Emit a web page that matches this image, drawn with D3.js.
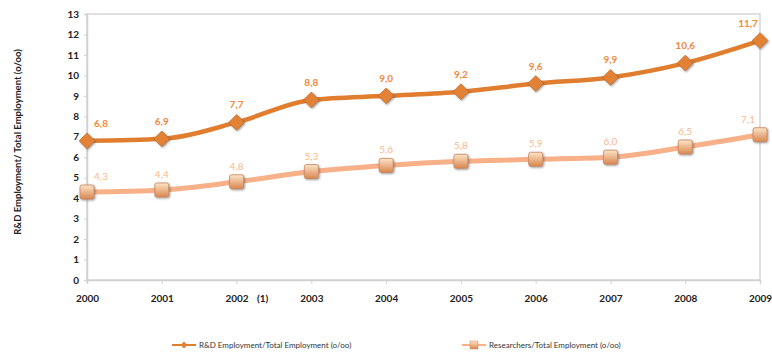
<!DOCTYPE html>
<html>
<head>
<meta charset="utf-8">
<script src="https://cdn.jsdelivr.net/npm/d3@7"></script>
<style>
body{margin:0;background:#fff;}
text{font-family:Lato,"Open Sans",sans-serif;}
</style>
</head>
<body>
<svg id="chart"></svg>
<script>
const years = ["2000","2001","2002","2003","2004","2005","2006","2007","2008","2009"];
const rdEmployment = [6.8,6.9,7.7,8.8,9.0,9.2,9.6,9.9,10.6,11.7];
const researchers = [4.3,4.4,4.8,5.3,5.6,5.8,5.9,6.0,6.5,7.1];
const yTicks = [0,1,2,3,4,5,6,7,8,9,10,11,12,13];
const seriesNames = ["R&D Employment/Total Employment (o/oo)","Researchers/Total Employment (o/oo)"];

const width = 772, height = 353;
const margin = {top:14,right:12,bottom:73,left:87};

const svg = d3.select("#chart").attr("width",width).attr("height",height);

const x = d3.scalePoint().domain(years).range([margin.left,width-margin.right]);
const y = d3.scaleLinear().domain([0,13]).range([height-margin.bottom,margin.top]);

const defs = svg.append("defs");
const grad = defs.append("linearGradient").attr("id","sq").attr("x1",0).attr("y1",0).attr("x2",0).attr("y2",1);
grad.append("stop").attr("offset","0%").attr("stop-color","#fde4c8");
grad.append("stop").attr("offset","100%").attr("stop-color","#d9874f");
const shadow = defs.append("filter").attr("id","sh").attr("x","-50%").attr("y","-50%").attr("width","200%").attr("height","200%");
shadow.append("feDropShadow").attr("dx",1).attr("dy",1).attr("stdDeviation",1).attr("flood-color","#555").attr("flood-opacity",0.6);

// frame
svg.append("rect")
    .attr("x",margin.left).attr("y",margin.top)
    .attr("width",width-margin.right-margin.left)
    .attr("height",height-margin.bottom-margin.top)
    .attr("fill","none").attr("stroke","#d6d6d6").attr("stroke-width",1.5);

// y axis
const yAxis = svg.append("g")
    .attr("transform",`translate(${margin.left},0)`)
    .call(d3.axisLeft(y).tickValues(yTicks).tickSize(3).tickPadding(5));
yAxis.select(".domain").attr("stroke","#d0d0d0").attr("stroke-width",1.5);
yAxis.selectAll(".tick line").attr("stroke","#d0d0d0");
yAxis.selectAll(".tick text").attr("font-size",10).attr("font-weight","bold").attr("fill","#222")
    .style("font-family","Lato,sans-serif");

// x axis
const xAxis = svg.append("g")
    .attr("transform",`translate(0,${height-margin.bottom})`)
    .call(d3.axisBottom(x).tickSize(4).tickPadding(11));
xAxis.select(".domain").attr("stroke","#d0d0d0").attr("stroke-width",1.5);
xAxis.selectAll(".tick line").attr("stroke","#d0d0d0");
xAxis.selectAll(".tick text").attr("font-size",10).attr("font-weight","bold").attr("fill","#222")
    .style("font-family","Lato,sans-serif");

svg.append("text")
    .attr("x",x("2002")+26).attr("y",height-margin.bottom+22)
    .attr("text-anchor","middle").attr("font-size",10).attr("font-weight","bold").attr("fill","#222")
    .text("(1)");

// y title
svg.append("text")
    .attr("transform",`translate(21,${(margin.top+height-margin.bottom)/2 - 5}) rotate(-90)`)
    .attr("text-anchor","middle").attr("font-size",9.5).attr("font-weight","bold").attr("fill","#222")
    .text("R&D Employment/ Total Employment (o/oo)");

const line = d3.line()
    .x((d,i)=>x(years[i]))
    .y(d=>y(d))
    .curve(d3.curveMonotoneX);

// researchers series
svg.append("path").datum(researchers)
    .attr("d",line).attr("fill","none").attr("stroke","#f7b088").attr("stroke-width",5);
svg.selectAll(".sq").data(researchers).enter().append("rect")
    .attr("x",(d,i)=>x(years[i])-7).attr("y",d=>y(d)-7)
    .attr("width",14).attr("height",14).attr("rx",2)
    .attr("fill","url(#sq)").attr("stroke","#c88760").attr("stroke-width",0.8)
    .attr("filter","url(#sh)");
svg.selectAll(".lab2").data(researchers).enter().append("text")
    .attr("x",(d,i)=>x(years[i])+(i==0?14:(i==years.length-1?-12:0)))
    .attr("y",d=>y(d)-12)
    .attr("text-anchor","middle").attr("font-size",10).attr("fill","#f8b98c")
    .text(d=>d3.format(".1f")(d).replace(".",","));

// R&D series
svg.append("path").datum(rdEmployment)
    .attr("d",line).attr("fill","none").attr("stroke","#e07d2e").attr("stroke-width",4.5);
svg.selectAll(".dia").data(rdEmployment).enter().append("path")
    .attr("d",d3.symbol().type(d3.symbolDiamond2).size(160))
    .attr("transform",(d,i)=>`translate(${x(years[i])},${y(d)})`)
    .attr("fill","#e38136").attr("stroke","#b86420").attr("stroke-width",0.6)
    .attr("filter","url(#sh)");
svg.selectAll(".lab1").data(rdEmployment).enter().append("text")
    .attr("x",(d,i)=>x(years[i])+(i==0?14:(i==years.length-1?-12:0)))
    .attr("y",d=>y(d)-14)
    .attr("text-anchor","middle").attr("font-size",10).attr("font-weight","bold").attr("fill","#f0893b")
    .text(d=>d3.format(".1f")(d).replace(".",","));

// legend
const legend = svg.append("g").attr("transform",`translate(0,${height-8})`);
const legendItems = [
    {x:172,color:"#e07d2e",name:seriesNames[0],mark:"diamond"},
    {x:462,color:"#f7b088",name:seriesNames[1],mark:"square"}
];
legendItems.forEach(item=>{
    const g = legend.append("g").attr("transform",`translate(${item.x},0)`);
    g.append("line").attr("x1",0).attr("x2",24).attr("y1",0).attr("y2",0)
        .attr("stroke",item.color).attr("stroke-width",2);
    if(item.mark=="diamond"){
        g.append("path").attr("d",d3.symbol().type(d3.symbolDiamond2).size(30))
            .attr("transform","translate(12,0)").attr("fill","#e38136");
    }else{
        g.append("rect").attr("x",8).attr("y",-4).attr("width",8).attr("height",8)
            .attr("fill","url(#sq)").attr("stroke","#c88760").attr("stroke-width",0.5);
    }
    g.append("text").attr("x",27).attr("y",3).attr("font-size",8).attr("fill","#333")
        .text(item.name);
});
</script>
</body>
</html>
